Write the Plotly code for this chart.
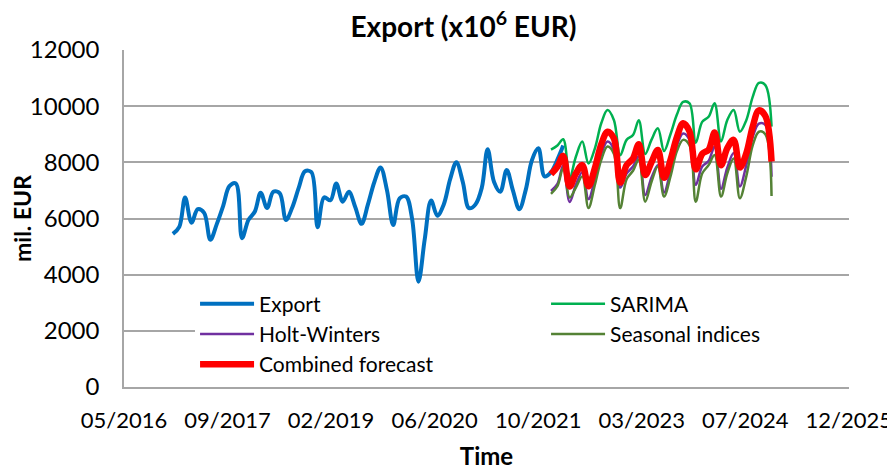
import pandas as pd
import plotly.graph_objects as go

# monthly export, Jan 2017 - Mar 2022 (mil. EUR)
export_start = "2017-01-01"
export = [
    5450, 5700, 6750, 5850, 6330, 6200, 5240, 5800, 6450, 7150, 7250, 5300,
    5950, 6250, 6920, 6370, 6950, 6900, 5950, 6400, 7100, 7680, 7650, 5690,
    6750, 6650, 7250, 6600, 6950, 6400, 5810, 6500, 7300, 7820, 7000, 5770,
    6720, 6780, 6000, 3750, 5250, 6640, 6100, 6500, 7400, 8000, 7300, 6370,
    6500, 7100, 8470, 7300, 6950, 7730, 7000, 6330, 7020, 8080, 8500, 7500,
    7650, 8100, 8600,
]

# forecasts, Jan 2022 - Dec 2024
fc_start = "2022-01-01"
sarima = [
    8450, 8600, 8820, 7450, 8200, 8740, 7960, 8500, 9400, 9860, 9500, 8250,
    8800, 8970, 9500, 8300, 8800, 9210, 8400, 9000, 9700, 10150, 10100, 8700,
    9440, 9620, 10100, 8740, 9500, 9860, 9090, 9500, 10330, 10830, 10750, 9270,
]
holt_winters = [
    6980, 7230, 7900, 6590, 7200, 7650, 6690, 7400, 8300, 8740, 8450, 7100,
    7600, 7850, 8220, 6840, 7450, 7900, 6930, 7700, 8600, 9030, 8800, 7200,
    7850, 8050, 8560, 7060, 7800, 8330, 7140, 7900, 8900, 9380, 9330, 7490,
]
seasonal = [
    6880, 7150, 7800, 6750, 7100, 7500, 6370, 7200, 8100, 8560, 8300, 6370,
    7400, 7700, 8100, 6600, 7300, 7850, 6780, 7500, 8400, 8800, 8600, 6600,
    7600, 7900, 8260, 6780, 7600, 8140, 6720, 7500, 8600, 9090, 9000, 6800,
]
combined = [
    7580, 7850, 8230, 7140, 7600, 7900, 7150, 7800, 8650, 9090, 8850, 7280,
    7900, 8140, 8640, 7550, 8000, 8440, 7450, 8080, 8900, 9390, 9100, 7750,
    8300, 8450, 9060, 7900, 8500, 8800, 7820, 8320, 9270, 9850, 9650, 8030,
]

x_export = pd.date_range(export_start, periods=len(export), freq="MS")
x_fc = pd.date_range(fc_start, periods=len(sarima), freq="MS")

FONT = "Lato"
GRID = "#A6A6A6"


def curve(x, y, name, color, width):
    return go.Scatter(x=x, y=y, name=name, mode="lines",
                      line=dict(color=color, width=width, shape="spline", smoothing=1))


fig = go.Figure()
fig.add_trace(curve(x_export, export, "Export", "#0070C0", 4))
fig.add_trace(curve(x_fc, sarima, "SARIMA", "#00B050", 2.5))
fig.add_trace(curve(x_fc, holt_winters, "Holt-Winters", "#7030A0", 2.5))
fig.add_trace(curve(x_fc, seasonal, "Seasonal indices", "#548235", 2.5))
fig.add_trace(curve(x_fc, combined, "Combined forecast", "#FF0000", 6.5))

# page body adds an 8px margin, so the figure is 8px smaller on each side
fig.update_layout(
    width=887, height=462,
    margin=dict(l=116, r=46, t=42, b=83, autoexpand=False),
    paper_bgcolor="white", plot_bgcolor="white",
    font=dict(family=FONT, size=24, color="black"),
    title=dict(text="<b>Export (x10<sup>6</sup> EUR)</b>", x=0.5135, xanchor="center",
               y=0.958, yanchor="middle", font=dict(size=28)),
    showlegend=True,
    legend=dict(orientation="h", x=0.098, xanchor="left", y=0.307, yanchor="top",
                bgcolor="white", entrywidth=282, entrywidthmode="pixels",
                itemwidth=54, font=dict(size=21), traceorder="normal"),
)
fig.update_xaxes(
    type="date", range=["2016-05-10", "2025-12-10"],
    tick0="2016-05-10", dtick=500 * 86400000, tickformat="%m/%Y",
    showgrid=False, showline=True, linecolor=GRID, linewidth=1.5,
    ticks="", ticklabelstandoff=13, automargin=False, tickfont=dict(size=22),
    title=dict(text="<b>Time</b>", standoff=27, font=dict(size=24)),
)
fig.update_yaxes(
    range=[0, 12000], dtick=2000, tickformat="d",
    showgrid=True, gridcolor=GRID, gridwidth=1.5,
    showline=True, linecolor=GRID, linewidth=1.5,
    ticks="", ticklabelstandoff=18, zeroline=False, automargin=False,
    title=dict(text="<b>mil. EUR</b>", standoff=1, font=dict(size=23)),
)

fig.write_html("out.html")
